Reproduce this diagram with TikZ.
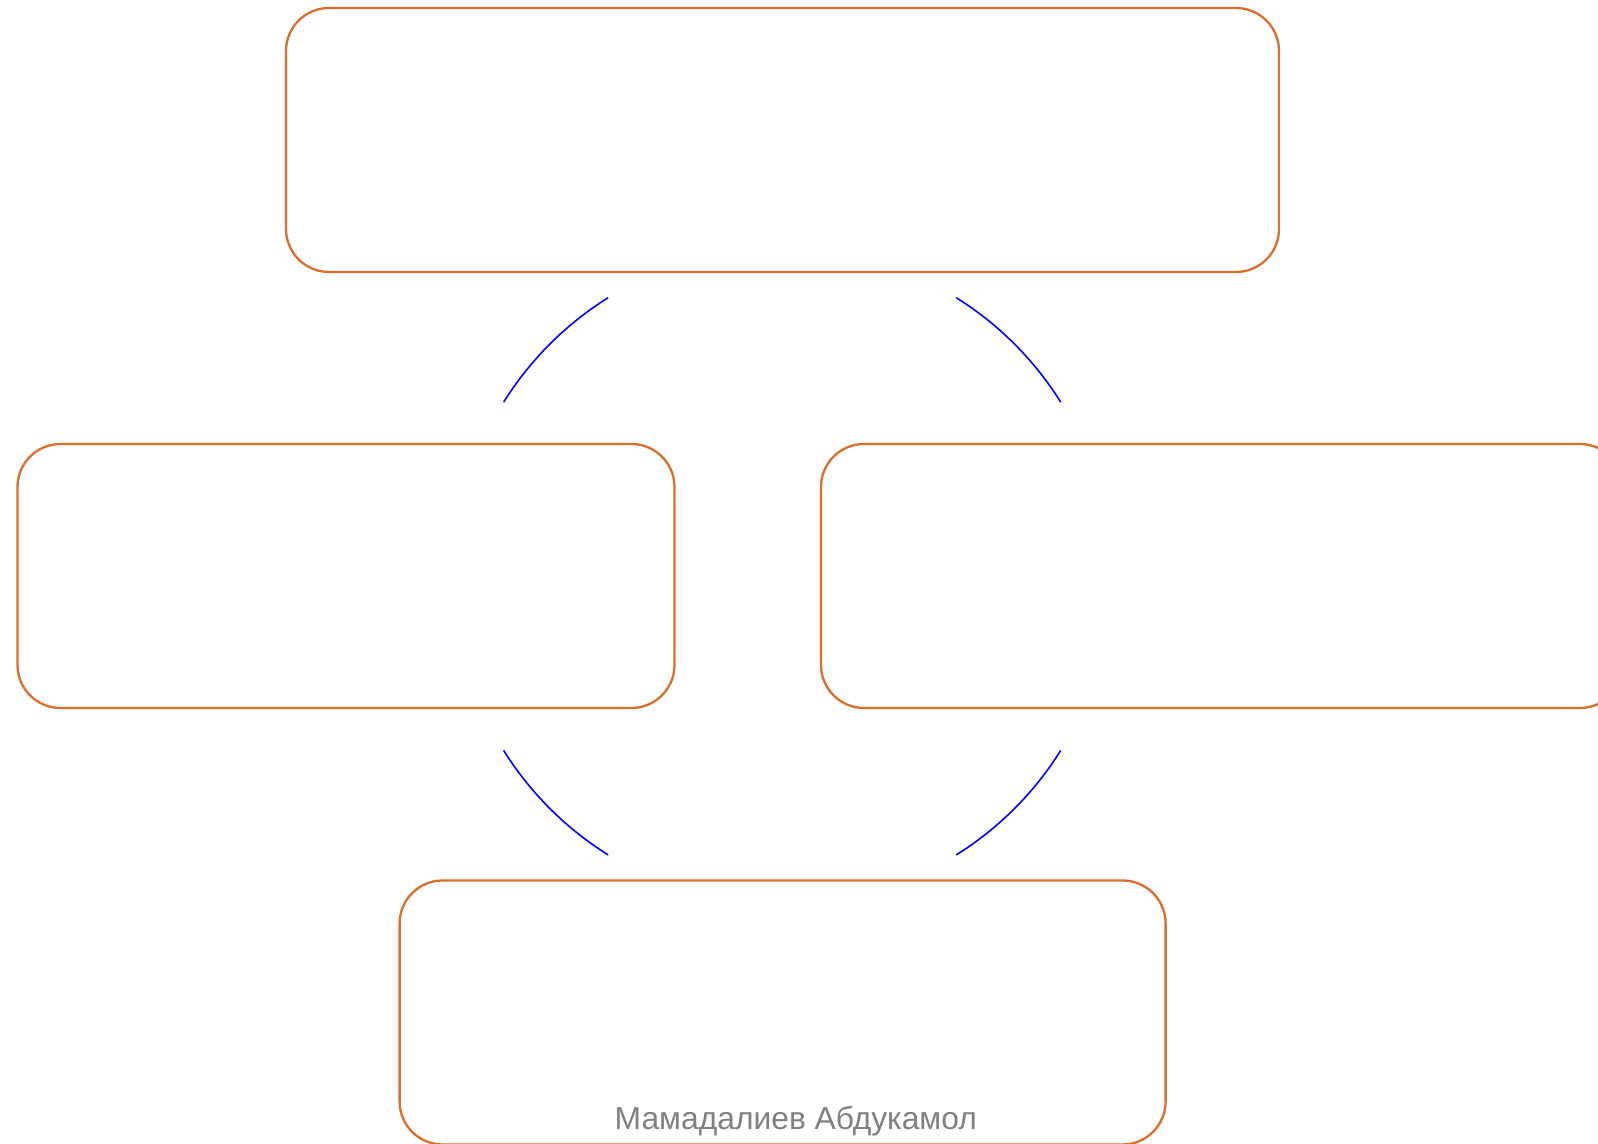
\documentclass[tikz,border=0pt]{standalone}
\usepackage{fontspec}
\newfontfamily\namefont{Liberation Sans}
\definecolor{boxorange}{RGB}{217,110,45}
\definecolor{namegray}{RGB}{128,128,128}

\begin{document}
\begin{tikzpicture}[x=1pt,y=1pt,
  box/.style={draw=boxorange,line width=2.3pt,rounded corners=43pt,minimum height=264pt},
  cyc/.style={draw=blue,line width=1.6pt}]
\useasboundingbox (0,0) rectangle (1598,1143);
\node[box,minimum width=993pt] (b0) at (782.5,1003) {};
\node[box,minimum width=657pt] (b1) at (346,567) {};
\node[box,minimum width=802pt] (b2) at (1222,567) {};
\node[box,minimum width=766pt] (b3) at (782.6,130.5) {};
\coordinate (c) at (782.2,566.7);
\draw [cyc] ([shift={(122:328.5)}]c) arc (122:148:328.5);
\draw [cyc] ([shift={(58:328.5)}]c) arc (58:32:328.5);
\draw [cyc] ([shift={(212:328.5)}]c) arc (212:238:328.5);
\draw [cyc] ([shift={(328:328.5)}]c) arc (328:302:328.5);
\node[anchor=base,inner sep=0pt,text=namegray,font=\namefont\fontsize{31.8}{36}\selectfont] (name) at (795.8,13.5) {Мамадалиев Абдукамол};
\end{tikzpicture}
\end{document}
